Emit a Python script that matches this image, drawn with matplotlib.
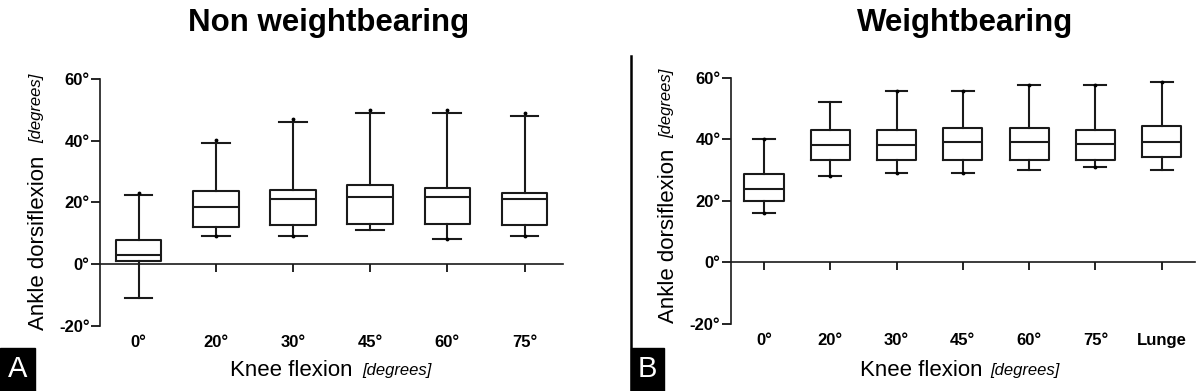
import matplotlib
matplotlib.use("Agg")
import matplotlib.pyplot as plt
import numpy as np
from matplotlib.patches import Rectangle
from matplotlib.lines import Line2D

plt.rcParams['font.family'] = ['Liberation Sans', 'DejaVu Sans']

# ---- data (degrees) ----
cats_a = ['0°', '20°', '30°', '45°', '60°', '75°']
lo_a = [-11, 9.0, 9.1, 11, 8.2, 9.0]
q1_a = [1.1, 12.1, 12.6, 12.9, 12.9, 12.6]
med_a = [3.1, 18.6, 21, 21.7, 21.7, 21]
q3_a = [8.0, 23.6, 24, 25.5, 24.8, 23]
hi_a = [22.4, 39.3, 46, 48.9, 48.9, 47.9]
top_dots_a = [23, 40.1, 46.9, 50, 50, 49]
bot_dots_a = [np.nan, 9.0, 9.1, np.nan, 8.2, 9.0]

cats_b = ['0°', '20°', '30°', '45°', '60°', '75°', 'Lunge']
lo_b = [16, 28.1, 29.1, 29.1, 30.1, 31.1, 30.1]
q1_b = [19.9, 33.2, 33.2, 33.3, 33.2, 33.2, 34.1]
med_b = [24, 38, 38, 39.1, 39.1, 38.6, 39.1]
q3_b = [28.8, 42.9, 43.1, 43.8, 43.6, 42.9, 44.3]
hi_b = [40, 52, 55.8, 55.7, 57.7, 57.7, 58.5]
top_dots_b = [40, np.nan, 55.8, 55.7, 57.7, 57.7, 58.5]
bot_dots_b = [16, 28.1, 29.1, 29.1, np.nan, 31.1, np.nan]

yticks = [-20, 0, 20, 40, 60]

fig = plt.figure(figsize=(12, 3.91), dpi=100)


def panel(rect, cats, lo, q1, med, q3, hi, tdots, bdots, capw):
    ax = fig.add_axes(rect)
    stats = []
    for i in range(len(cats)):
        stats.append(dict(whislo=lo[i], q1=q1[i], med=med[i], q3=q3[i],
                          whishi=hi[i], fliers=[], label=cats[i]))
    pos = np.arange(len(cats))
    lw = 1.5
    ax.bxp(stats, positions=pos, widths=0.59, capwidths=capw,
           showfliers=False,
           boxprops=dict(color='#1a1a1a', linewidth=lw),
           medianprops=dict(color='#1a1a1a', linewidth=lw),
           whiskerprops=dict(color='#1a1a1a', linewidth=lw),
           capprops=dict(color='#1a1a1a', linewidth=lw))
    ax.plot(pos, tdots, 'k.', markersize=3.5)
    ax.plot(pos, bdots, 'k.', markersize=3.5)
    ax.set_xlim(-0.5, len(cats) - 0.5)
    ax.set_ylim(-20, 60)
    ax.spines['top'].set_visible(False)
    ax.spines['right'].set_visible(False)
    ax.spines['bottom'].set_position(('data', 0))
    for s in ('left', 'bottom'):
        ax.spines[s].set_linewidth(1.2)
        ax.spines[s].set_color('#1a1a1a')
    ax.set_yticks(yticks)
    ax.set_yticklabels([f'{t}°' for t in yticks], fontweight='bold', fontsize=12)
    ax.set_xticks(pos)
    ax.set_xticklabels(cats, fontweight='bold', fontsize=12)
    ax.tick_params(axis='y', length=6.5, width=1.2, pad=1)
    ax.tick_params(axis='x', length=6, width=1.2, pad=45)
    return ax


axA = panel([0.0833, 0.1662, 0.386, 0.632], cats_a, lo_a, q1_a, med_a, q3_a, hi_a,
            top_dots_a, bot_dots_a, 0.36)
axB = panel([0.609, 0.1714, 0.3867, 0.630], cats_b, lo_b, q1_b, med_b, q3_b, hi_b,
            top_dots_b, bot_dots_b, 0.33)

W, H = 1200.0, 391.0


def ftext(x, y, s, **kw):
    fig.text(x / W, 1 - y / H, s, **kw)


# titles
ftext(329, 23, 'Non weightbearing', fontsize=22.5, fontweight='bold', ha='center', va='center')
ftext(965, 23, 'Weightbearing', fontsize=22.5, fontweight='bold', ha='center', va='center')

# x labels
for x0 in (230, 860):
    ftext(x0, 370, 'Knee flexion', fontsize=16, ha='left', va='center')
for x0 in (362, 990):
    ftext(x0, 371, '[degrees]', fontsize=12, style='italic', ha='left', va='center')

# y labels
for x0, y0, y1 in ((38, 330, 143), (668, 323, 138)):
    ftext(x0, y0, 'Ankle dorsiflexion', fontsize=16, rotation=90,
          rotation_mode='anchor', ha='left', va='center')
    ftext(x0 - 1, y1, '[degrees]', fontsize=12, style='italic', rotation=90,
          rotation_mode='anchor', ha='left', va='center')

# panel letters
for x0, x1, letter in ((0, 35, 'A'), (631, 664, 'B')):
    fig.patches.append(Rectangle((x0 / W, 0), (x1 - x0) / W, 43 / H,
                                 transform=fig.transFigure, color='black'))
    ftext((x0 + x1) / 2, 369, letter, fontsize=21, color='white', ha='center', va='center')

# separator line
fig.add_artist(Line2D([631 / W, 631 / W], [0, 1 - 56 / H], transform=fig.transFigure,
                      color='black', linewidth=1.8))

fig.savefig('out.png', dpi=100)
